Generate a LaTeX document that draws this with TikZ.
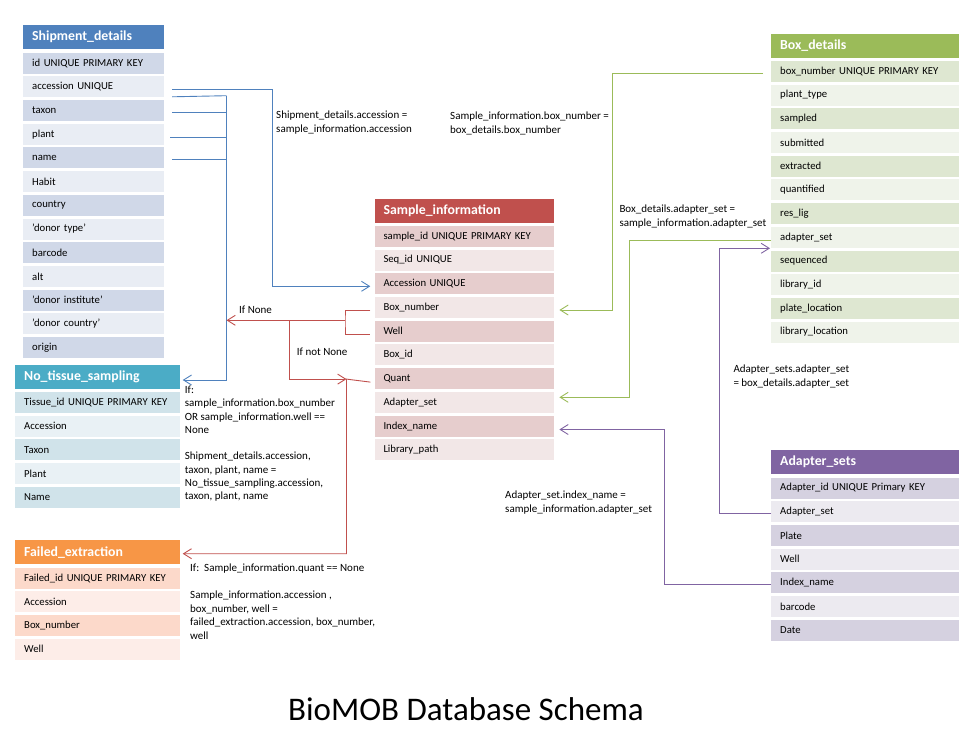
\documentclass[tikz,border=0pt]{standalone}
\usepackage{fontspec}
\setmainfont{Carlito}
\usetikzlibrary{positioning,arrows.meta}

\definecolor{sdhead}{HTML}{4F81BD}\definecolor{sddark}{HTML}{D0D8E8}\definecolor{sdlight}{HTML}{E9EDF4}
\definecolor{sihead}{HTML}{C0504D}\definecolor{sidark}{HTML}{E6CDCD}\definecolor{silight}{HTML}{F2E7E7}
\definecolor{bdhead}{HTML}{9BBB59}\definecolor{bddark}{HTML}{DEE7D1}\definecolor{bdlight}{HTML}{EFF3EA}
\definecolor{ashead}{HTML}{8064A2}\definecolor{asdark}{HTML}{D5D1E0}\definecolor{aslight}{HTML}{ECEAF0}
\definecolor{nthead}{HTML}{4BACC6}\definecolor{ntdark}{HTML}{D0E3EA}\definecolor{ntlight}{HTML}{E9F1F5}
\definecolor{fehead}{HTML}{F79646}\definecolor{fedark}{HTML}{FCD9CA}\definecolor{felight}{HTML}{FDEDE8}

\begin{document}
\begin{tikzpicture}[x=1pt,y=-1pt,
  cell/.style={rectangle,inner xsep=9pt,inner ysep=0pt,minimum height=21pt,align=left,text=black,font=\fontsize{10.7}{13}\selectfont},
  head/.style={cell,minimum height=24pt,text=white,font=\bfseries\fontsize{13.8}{17}\selectfont},
  sdh/.style={head,text width=122.7pt,fill=sdhead},sdd/.style={cell,text width=122.7pt,fill=sddark},sdl/.style={cell,text width=122.7pt,fill=sdlight},
  sih/.style={head,text width=161.7pt,fill=sihead},sid/.style={cell,text width=161.7pt,fill=sidark},sil/.style={cell,text width=161.7pt,fill=silight},
  bdh/.style={head,text width=170pt,fill=bdhead},bdd/.style={cell,text width=170pt,fill=bddark},bdl/.style={cell,text width=170pt,fill=bdlight},
  ash/.style={head,text width=170pt,fill=ashead},asd/.style={cell,text width=170pt,fill=asdark},asl/.style={cell,text width=170pt,fill=aslight},
  nth/.style={head,text width=146.3pt,fill=nthead},ntd/.style={cell,text width=146.3pt,fill=ntdark},ntl/.style={cell,text width=146.3pt,fill=ntlight},
  feh/.style={head,text width=146.3pt,fill=fehead},fed/.style={cell,text width=146.3pt,fill=fedark},fel/.style={cell,text width=146.3pt,fill=felight},
  wire/.style={line width=0.9pt},
  link/.style={wire,-{Straight Barb[length=8pt,width=10pt,line width=0.9pt]}},
  note/.style={anchor=north west,align=left,inner sep=0pt,font=\fontsize{11}{13.5}\selectfont}]
\useasboundingbox (0,0) rectangle (978,742);
% Shipment_details
\node[sdh,anchor=north west] (sd0) at (23,25) {Shipment\_details};
\node[sdd,below=3pt of sd0] (sd1) {id UNIQUE PRIMARY KEY};
\node[sdl,below=2.3pt of sd1] (sd2) {accession UNIQUE};
\node[sdd,below=2.3pt of sd2] (sd3) {taxon};
\node[sdl,below=2.3pt of sd3] (sd4) {plant};
\node[sdd,below=2.3pt of sd4] (sd5) {name};
\node[sdl,below=2.3pt of sd5] (sd6) {Habit};
\node[sdd,below=2.3pt of sd6] (sd7) {country};
\node[sdl,below=2.3pt of sd7] (sd8) {'donor type'};
\node[sdd,below=2.3pt of sd8] (sd9) {barcode};
\node[sdl,below=2.3pt of sd9] (sd10) {alt};
\node[sdd,below=2.3pt of sd10] (sd11) {'donor institute'};
\node[sdl,below=2.3pt of sd11] (sd12) {'donor country'};
\node[sdd,below=2.3pt of sd12] (sd13) {origin};
% No_tissue_sampling
\node[nth,anchor=north west] (nt0) at (15,364.3) {No\_tissue\_sampling};
\node[ntd,below=3pt of nt0] (nt1) {Tissue\_id UNIQUE PRIMARY KEY};
\node[ntl,below=2.3pt of nt1] (nt2) {Accession};
\node[ntd,below=2.3pt of nt2] (nt3) {Taxon};
\node[ntl,below=2.3pt of nt3] (nt4) {Plant};
\node[ntd,below=2.3pt of nt4] (nt5) {Name};
% Failed_extraction
\node[feh,anchor=north west] (fe0) at (15,540) {Failed\_extraction};
\node[fed,below=3pt of fe0] (fe1) {Failed\_id UNIQUE PRIMARY KEY};
\node[fel,below=2.3pt of fe1] (fe2) {Accession};
\node[fed,below=2.3pt of fe2] (fe3) {Box\_number};
\node[fel,below=2.3pt of fe3] (fe4) {Well};
% Sample_information
\node[sih,anchor=north west] (si0) at (374.3,198.3) {Sample\_information};
\node[sid,below=3pt of si0] (si1) {sample\_id UNIQUE PRIMARY KEY};
\node[sil,below=2.3pt of si1] (si2) {Seq\_id UNIQUE};
\node[sid,below=2.3pt of si2] (si3) {Accession UNIQUE};
\node[sil,below=2.3pt of si3] (si4) {Box\_number};
\node[sid,below=2.3pt of si4] (si5) {Well};
\node[sil,below=2.3pt of si5] (si6) {Box\_id};
\node[sid,below=2.3pt of si6] (si7) {Quant};
\node[sil,below=2.3pt of si7] (si8) {Adapter\_set};
\node[sid,below=2.3pt of si8] (si9) {Index\_name};
\node[sil,below=2.3pt of si9] (si10) {Library\_path};
% Box_details
\node[bdh,anchor=north west] (bd0) at (771,33.3) {Box\_details};
\node[bdd,below=3pt of bd0] (bd1) {box\_number UNIQUE PRIMARY KEY};
\node[bdl,below=2.3pt of bd1] (bd2) {plant\_type};
\node[bdd,below=2.3pt of bd2] (bd3) {sampled};
\node[bdl,below=2.3pt of bd3] (bd4) {submitted};
\node[bdd,below=2.3pt of bd4] (bd5) {extracted};
\node[bdl,below=2.3pt of bd5] (bd6) {quantified};
\node[bdd,below=2.3pt of bd6] (bd7) {res\_lig};
\node[bdl,below=2.3pt of bd7] (bd8) {adapter\_set};
\node[bdd,below=2.3pt of bd8] (bd9) {sequenced};
\node[bdl,below=2.3pt of bd9] (bd10) {library\_id};
\node[bdd,below=2.3pt of bd10] (bd11) {plate\_location};
\node[bdl,below=2.3pt of bd11] (bd12) {library\_location};
% Adapter_sets
\node[ash,anchor=north west] (as0) at (771,450) {Adapter\_sets};
\node[asd,below=3pt of as0] (as1) {Adapter\_id UNIQUE Primary KEY};
\node[asl,below=2.3pt of as1] (as2) {Adapter\_set};
\node[asd,below=2.3pt of as2] (as3) {Plate};
\node[asl,below=2.3pt of as3] (as4) {Well};
\node[asd,below=2.3pt of as4] (as5) {Index\_name};
\node[asl,below=2.3pt of as5] (as6) {barcode};
\node[asd,below=2.3pt of as6] (as7) {Date};
% connectors
\coordinate (bus) at (226.5,95.7);
\coordinate (redj) at (345,320.3);
\coordinate (split) at (289,320.3);
\coordinate (redq) at (346.5,379.1);
\draw[sdhead,link] ([xshift=8pt,yshift=-2.5pt]sd2.east) -- ++(100,0) |- ([xshift=-4pt,yshift=-2.5pt]si3.west);
\draw[sdhead,wire] ([xshift=8pt,yshift=-10pt]sd2.east) -- (bus);
\draw[sdhead,wire] ([xshift=8pt,yshift=-2pt]sd3.east) -- ++(54.8,0);
\draw[sdhead,wire] ([xshift=6pt,yshift=-3pt]sd4.east) -- ++(56.8,0);
\draw[sdhead,wire] ([xshift=8pt,yshift=-2pt]sd5.east) -- ++(54.8,0);
\draw[sdhead,link] (bus) |- ([xshift=3pt,yshift=-3.5pt]nt0.east);
\draw[sihead,wire] ([xshift=-4pt,yshift=-2.5pt]si4.west) -| (redj) |- ([xshift=-4pt,yshift=-3pt]si5.west);
\draw[sihead,link] (redj) -- (bus |- redj);
\draw[sihead,link] (split) |- (redq);
\draw[sihead,link] ([xshift=-4pt,yshift=-3.5pt]si7.west) -- (redq) |- ([xshift=3pt,yshift=-1.5pt]fe0.east);
\draw[bdhead,link] ([xshift=-8pt,yshift=-2pt]bd1.west) -- ++(-151,0) |- ([xshift=5pt,yshift=-2.5pt]si4.east);
\draw[bdhead,link] ([yshift=-3pt]bd8.west) -- ++(-142,0) |- ([xshift=5pt,yshift=5pt]si8.east);
\draw[ashead,link] ([yshift=-2pt]as2.west) -- ++(-51.7,0) |- ([xshift=-1pt,yshift=-11pt]bd8.west);
\draw[ashead,link] ([yshift=-2pt]as5.west) -- ++(-106.7,0) |- ([xshift=5pt,yshift=-3.5pt]si9.east);
% notes
\node[note] (n1) at (276,110.7) {Shipment\_details.accession =\\sample\_information.accession};
\node[note] (n2) at (450,112) {Sample\_information.box\_number =\\box\_details.box\_number};
\node[note] (n3) at (619.3,204.7) {Box\_details.adapter\_set =\\sample\_information.adapter\_set};
\node[note,anchor=west] (n4) at (239,309.7) {If None};
\node[note,anchor=west] (n5) at (296.7,351.7) {If not None};
\node[note] (n6) at (733.3,364.7) {Adapter\_sets.adapter\_set\\= box\_details.adapter\_set};
\node[note,font=\fontsize{11}{13.3}\selectfont] (n7) at (184.7,385.7) {If:\\sample\_information.box\_number\\OR sample\_information.well ==\\None\\[13.3pt]Shipment\_details.accession,\\taxon, plant, name =\\No\_tissue\_sampling.accession,\\taxon, plant, name};
\node[note] (n8) at (505,490.7) {Adapter\_set.index\_name =\\sample\_information.adapter\_set};
\node[note] (n9) at (190,563.7) {If:\ \ Sample\_information.quant == None\\[13.5pt]Sample\_information.accession ,\\box\_number, well =\\failed\_extraction.accession, box\_number,\\well};
\node[anchor=base,font=\fontsize{33}{40}\selectfont] (title) at (466,720.5) {BioMOB Database Schema};
\end{tikzpicture}
\end{document}
